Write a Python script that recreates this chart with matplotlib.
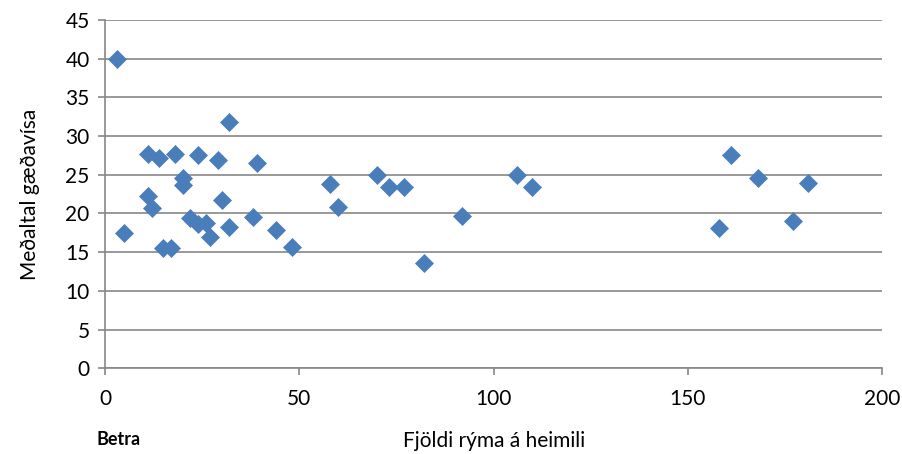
import matplotlib.pyplot as plt

# fjöldi rýma og meðaltal gæðavísa
rooms = [3, 5, 11, 14, 18, 11, 12, 15, 17, 20, 20, 22, 24, 24, 26, 27,
         29, 30, 32, 32, 38, 39, 44, 48, 58, 60, 70, 73, 77, 82, 92,
         106, 110, 158, 161, 168, 177, 181]
quality = [39.9, 17.5, 27.7, 27.2, 27.7, 22.2, 20.7, 15.5, 15.5, 24.6, 23.7,
           19.4, 18.6, 27.5, 18.8, 17.0, 26.9, 21.8, 31.8, 18.2, 19.6, 26.5,
           17.9, 15.7, 23.8, 20.8, 25.0, 23.4, 23.4, 13.6, 19.7,
           25.0, 23.4, 18.1, 27.6, 24.6, 19.0, 23.9]
xticks = [0, 50, 100, 150, 200]
yticks = list(range(0, 50, 5))

plt.rcParams['font.family'] = ['Lato', 'DejaVu Sans']

fig = plt.figure(figsize=(9.02, 4.54), dpi=100)
ax = fig.add_axes([0.1164, 0.189, 0.8616, 0.767])

ax.plot(rooms, quality, 'D', color='#4a7ebb', markersize=9.5,
        markeredgecolor='#4a7ebb', markeredgewidth=0.5, zorder=3)

ax.set_xlim(0, 200)
ax.set_ylim(0, 45)
ax.set_xticks(xticks)
ax.set_yticks(yticks)
ax.grid(axis='y', color='#878787', linewidth=1.2)
ax.set_axisbelow(True)
for s in ['top', 'right']:
    ax.spines[s].set_visible(False)
for s in ['left', 'bottom']:
    ax.spines[s].set_color('#878787')
    ax.spines[s].set_linewidth(1.2)
ax.tick_params(colors='#878787', labelcolor='black', labelsize=15,
               length=5, width=1.2)
ax.tick_params(axis='x', pad=10)
ax.tick_params(axis='y', pad=6)

ax.set_ylabel('Meðaltal gæðavísa', fontsize=15, labelpad=18)
ax.set_xlabel('Fjöldi rýma á heimili', fontsize=15, labelpad=16)
fig.text(0.107, 0.02, 'Betra', fontsize=13, fontweight='bold')

fig.savefig('out.png', dpi=100)
